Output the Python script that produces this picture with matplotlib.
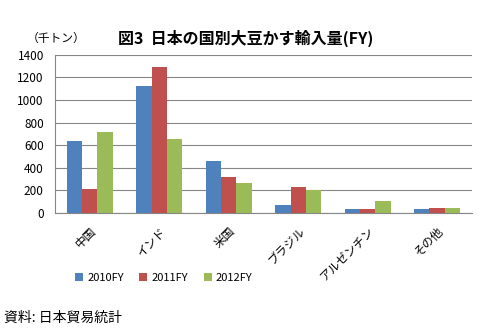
import numpy as np
import matplotlib
matplotlib.use("Agg")
import matplotlib.pyplot as plt

plt.rcParams['font.family'] = ['Noto Sans CJK JP', 'DejaVu Sans']

# 国別 大豆かす輸入量 (千トン)
countries = ["中国", "インド", "米国", "ブラジル", "アルゼンチン", "その他"]
fy2010 = [637, 1122, 461, 73, 40, 40]
fy2011 = [214, 1290, 320, 232, 40, 49]
fy2012 = [716, 655, 267, 205, 108, 48]
series_names = ["2010FY", "2011FY", "2012FY"]
colors = ["#4F81BD", "#C0504D", "#9BBB59"]

fig = plt.figure(figsize=(4.82, 3.33), dpi=100)
ax = fig.add_axes([0.114, 0.36, 0.865, 0.476])

x = np.arange(len(countries))
w = 0.22
for i, (vals, name, c) in enumerate(zip([fy2010, fy2011, fy2012], series_names, colors)):
    ax.bar(x + (i - 1) * w, vals, w, color=c, label=name, zorder=3)

ax.set_xlim(-0.5, len(countries) - 0.5)
ax.set_ylim(0, 1400)
ax.set_yticks(range(0, 1401, 200))
ax.yaxis.grid(True, color="#868686", linewidth=0.8, zorder=0)
ax.set_xticks(x)
ax.set_xticklabels(countries, rotation=45, ha="right", rotation_mode="anchor", fontsize=8.5)
ax.tick_params(axis="y", labelsize=8.5, length=0, pad=8)
ax.tick_params(axis="x", length=0, pad=8)
for s in ["top", "right"]:
    ax.spines[s].set_visible(False)
for s in ["left", "bottom"]:
    ax.spines[s].set_color("#868686")

fig.text(0.055, 0.885, "（千トン）", fontsize=8.5, va="center")
fig.text(0.51, 0.885, "図3  日本の国別大豆かす輸入量(FY)", fontsize=11.5, fontweight="bold",
         ha="center", va="center")

fig.legend(loc="center", bbox_to_anchor=(0.34, 0.165), ncol=3, frameon=False,
           fontsize=8, handlelength=0.7, handleheight=0.7, columnspacing=1.4, handletextpad=0.4)

fig.text(0.008, 0.045, "資料: 日本貿易統計", fontsize=10, va="center")

fig.savefig("out.png", dpi=100)
